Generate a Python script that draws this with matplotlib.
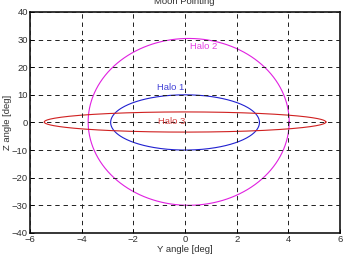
import numpy as np
import matplotlib
matplotlib.use("Agg")
import matplotlib.pyplot as plt

# halo outlines (centre and half extents, degrees)
halo_names = ["Halo 1", "Halo 2", "Halo 3"]
halo_colors = ["#2020d0", "#e020e0", "#d02020"]
center_y = [0.0, 0.14, 0.0]
center_z = [0.0, 0.2, 0.15]
half_y = [2.88, 3.89, 5.45]
half_z = [10.0, 30.2, 3.65]

# label positions (data coords)
label_y = [-1.1, 0.2, -1.05]
label_z = [12.5, 27.5, 0.3]

xticks = [-6, -4, -2, 0, 2, 4, 6]
yticks = [-40, -30, -20, -10, 0, 10, 20, 30, 40]

plt.rcParams["font.family"] = ["Liberation Sans", "DejaVu Sans"]
txt_color = "#303030"

fig = plt.figure(figsize=(3.43, 2.54), dpi=100)
ax = fig.add_axes([0.0875, 0.083, 0.904, 0.87])

t = np.linspace(0, 2 * np.pi, 400)
for i in range(len(halo_names)):
    ax.plot(center_y[i] + half_y[i] * np.cos(t),
            center_z[i] + half_z[i] * np.sin(t),
            color=halo_colors[i], lw=0.8, zorder=2)
    ax.text(label_y[i], label_z[i], halo_names[i], color=halo_colors[i],
            fontsize=6.8, va="center", ha="left", zorder=3, alpha=0.85)

ax.set_xlim(-6, 6)
ax.set_ylim(-40, 40)
ax.set_xticks(xticks)
ax.set_yticks(yticks)
ax.tick_params(direction="in", labelsize=6.8, length=3, width=0.6, pad=1.5,
               labelcolor=txt_color)
ax.grid(True, color="#202020", linestyle=(0, (4.5, 4)), lw=0.7, zorder=4)
ax.set_axisbelow(False)
for s in ax.spines.values():
    s.set_linewidth(1.1)

ax.set_xlabel("Y angle [deg]", fontsize=6.8, labelpad=1, color=txt_color)
ax.set_ylabel("Z angle [deg]", fontsize=6.8, labelpad=0, color=txt_color)
fig.text(0.537, 1.0 - 2.0 / 254, "Moon Pointing", fontsize=6.8,
         ha="center", va="center", color=txt_color)

fig.savefig("out.png", dpi=100)
